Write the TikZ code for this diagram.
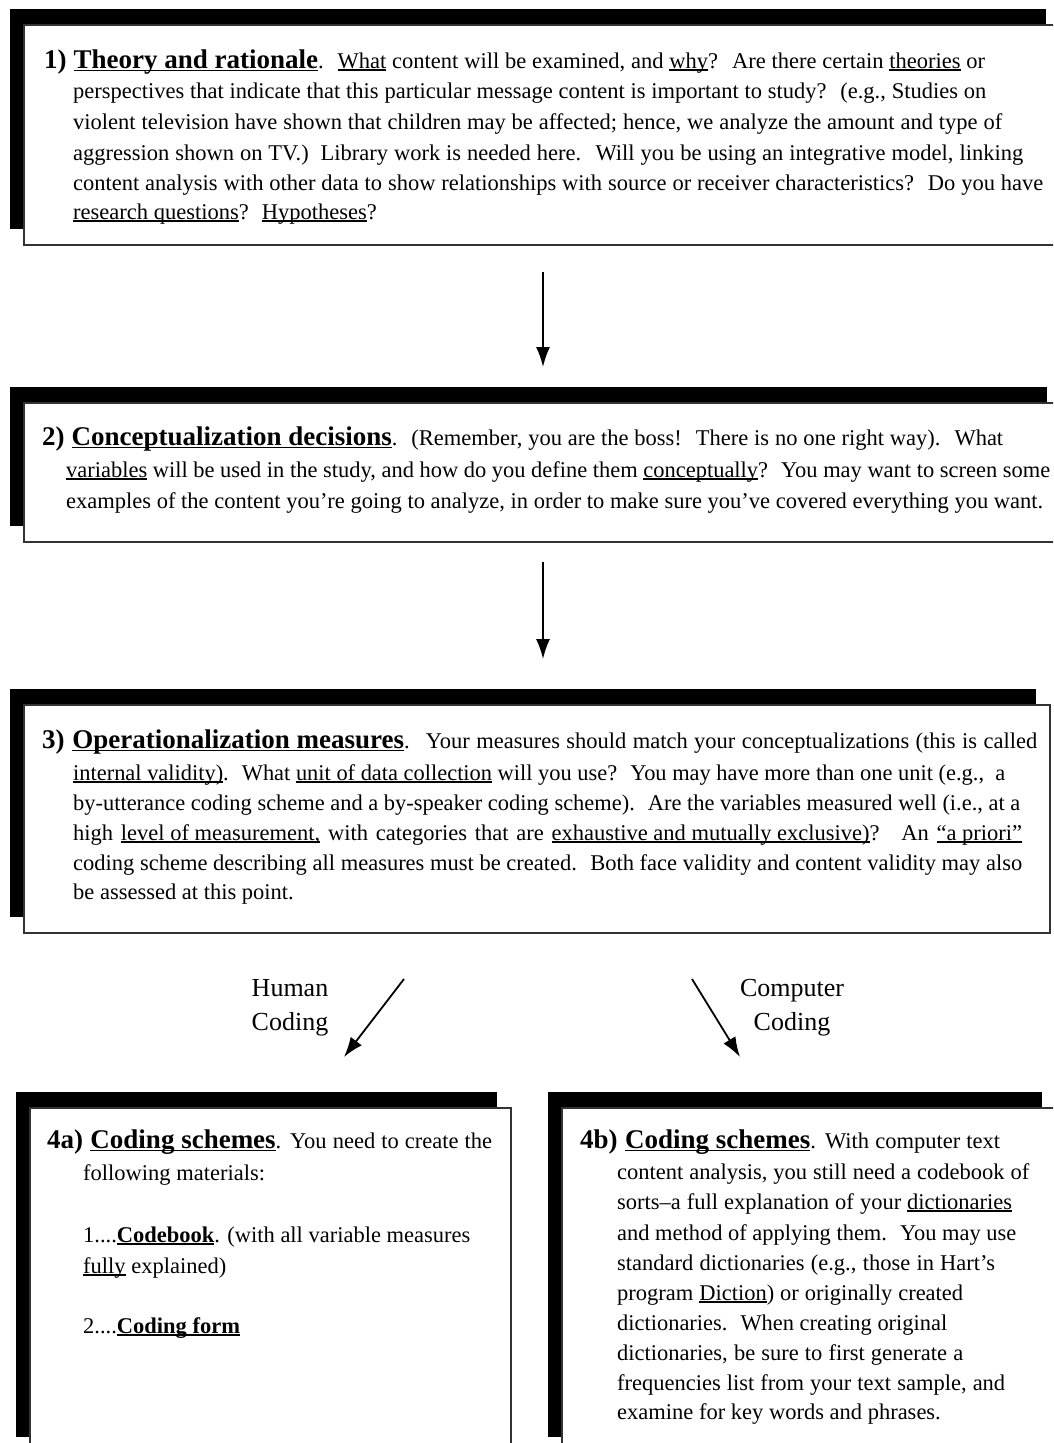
\documentclass[tikz,border=0pt]{standalone}
\usepackage{fontspec}
\setmainfont{Liberation Serif}
\usetikzlibrary{arrows.meta,shadows}
\newsavebox\ulbx
\newsavebox\flbx
\newcommand\ul[1]{\sbox\ulbx{#1}\rlap{\rule[-0.12em]{\wd\ulbx}{0.055em}}\usebox\ulbx}
\newcommand\hd[1]{{\fontsize{27}{30}\selectfont\bfseries #1}}
\newcommand\fl[2]{\sbox\flbx{#2}\ifdim\wd\flbx>#1pt\relax\resizebox{#1pt}{\height}{\usebox\flbx}\else\makebox[#1pt][s]{#2}\fi}
\begin{document}
\begin{tikzpicture}[x=1pt,y=-1pt,
  box/.style={draw=black!80, line width=1.3pt, fill=white, inner sep=0pt, outer sep=0pt, anchor=north west,
    drop shadow={shadow xshift=-14pt, shadow yshift=16pt, fill=black, opacity=1}},
  txt/.style={inner sep=0pt, anchor=base west, font=\fontsize{22.5}{26}\selectfont},
  lab/.style={inner sep=0pt, align=center, font=\fontsize{26}{34}\selectfont},
  arr/.style={line width=1.8pt, -{Latex[length=20pt,width=14pt]}}]
\useasboundingbox (0,0) rectangle (1053,1443);
\clip (0,0) rectangle (1053,1443);
\fill[white] (0,0) rectangle (1053,1443);

% boxes
\node[box, minimum width=1036pt, minimum height=220pt] (b1) at (24,25) {};
\node[box, minimum width=1037pt, minimum height=139pt] (b2) at (24,403) {};
\node[box, minimum width=1026pt, minimum height=228pt] (b3) at (24,705) {};
\node[box, minimum width=481pt, minimum height=345pt] (b4a) at (30,1108) {};
\node[box, minimum width=494pt, minimum height=345pt] (b4b) at (562,1108) {};

% box 1 text
\node[txt] (t1a) at (44,68) {\fl{941}{\hd{1) \ul{Theory and rationale}}. \ \ul{What} content will be examined, and \ul{why}? \ Are there certain \ul{theories} or}};
\node[txt] (t1b) at (73,98) {\fl{913}{perspectives that indicate that this particular message content is important to study? \ (e.g., Studies on}};
\node[txt] (t1c) at (73,129) {\fl{929}{violent television have shown that children may be affected; hence, we analyze the amount and type of}};
\node[txt] (t1d) at (73,160) {\fl{950}{aggression shown on TV.) \ Library work is needed here. \ Will you be using an integrative model, linking}};
\node[txt] (t1e) at (73,190) {\fl{970}{content analysis with other data to show relationships with source or receiver characteristics? \ Do you have}};
\node[txt] (t1f) at (73,219) {\ul{research questions}? \ \ul{Hypotheses}?};

% box 2 text
\node[txt] (t2a) at (42,445) {\fl{961}{\hd{2) \ul{Conceptualization decisions}}. \ (Remember, you are the boss! \ There is no one right way). \ What}};
\node[txt] (t2b) at (66,477) {\fl{984}{\ul{variables} will be used in the study, and how do you define them \ul{conceptually}? \ You may want to screen some}};
\node[txt] (t2c) at (66,508) {\fl{977}{examples of the content you’re going to analyze, in order to make sure you’ve covered everything you want.}};

% box 3 text
\node[txt] (t3a) at (42,748) {\fl{995}{\hd{3) \ul{Operationalization measures}}. \ Your measures should match your conceptualizations (this is called}};
\node[txt] (t3b) at (73,780) {\fl{932}{\ul{internal validity)}. \ What \ul{unit of data collection} will you use? \ You may have more than one unit (e.g., \ a}};
\node[txt] (t3c) at (73,810) {\fl{947}{by-utterance coding scheme and a by-speaker coding scheme). \ Are the variables measured well (i.e., at a}};
\node[txt] (t3d) at (73,840) {\fl{949}{high \ul{level of measurement,} with categories that are \ul{exhaustive and mutually exclusive)}? \ An \ul{“a priori”}}};
\node[txt] (t3e) at (73,870) {\fl{949}{coding scheme describing all measures must be created. \ Both face validity and content validity may also}};
\node[txt] (t3f) at (73,899) {be assessed at this point.};

% labels
\node[lab] (hum) at (290,1008) {Human\\Coding};
\node[lab] (com) at (792,1008) {Computer\\Coding};

% box 4a text
\node[txt] (t4a1) at (47,1148) {\fl{445}{\hd{4a) \ul{Coding schemes}}. You need to create the}};
\node[txt] (t4a2) at (83,1180) {following materials:};
\node[txt] (t4a3) at (83,1242) {\fl{387}{1....\ul{\textbf{Codebook}}. (with all variable measures}};
\node[txt] (t4a4) at (83,1273) {\ul{fully} explained)};
\node[txt] (t4a5) at (83,1333) {2....\ul{\textbf{Coding form}}};

% box 4b text
\node[txt] (t4b1) at (580,1148) {\fl{420}{\hd{4b) \ul{Coding schemes}}. With computer text}};
\node[txt] (t4b2) at (617,1179) {\fl{412}{content analysis, you still need a codebook of}};
\node[txt] (t4b3) at (617,1209) {\fl{395}{sorts–a full explanation of your \ul{dictionaries}}};
\node[txt] (t4b4) at (617,1240) {\fl{399}{and method of applying them. \ You may use}};
\node[txt] (t4b5) at (617,1270) {\fl{378}{standard dictionaries (e.g., those in Hart’s}};
\node[txt] (t4b6) at (617,1300) {\fl{346}{program \ul{Diction}) or originally created}};
\node[txt] (t4b7) at (617,1330) {\fl{330}{dictionaries. \ When creating original}};
\node[txt] (t4b8) at (617,1360) {\fl{346}{dictionaries, be sure to first generate a}};
\node[txt] (t4b9) at (617,1390) {\fl{388}{frequencies list from your text sample, and}};
\node[txt] (t4b10) at (617,1419) {examine for key words and phrases.};

% arrows
\coordinate (a1s) at (543,272);
\coordinate (a1e) at (543,367);
\coordinate (a2s) at (543,562);
\coordinate (a2e) at (543,659);
\coordinate (a3s) at (404,979);
\coordinate (a3e) at (344,1057);
\coordinate (a4s) at (692,979);
\coordinate (a4e) at (740,1057);
\draw[arr] (a1s) -- (a1e);
\draw[arr] (a2s) -- (a2e);
\draw[arr] (a3s) -- (a3e);
\draw[arr] (a4s) -- (a4e);
\end{tikzpicture}
\end{document}
